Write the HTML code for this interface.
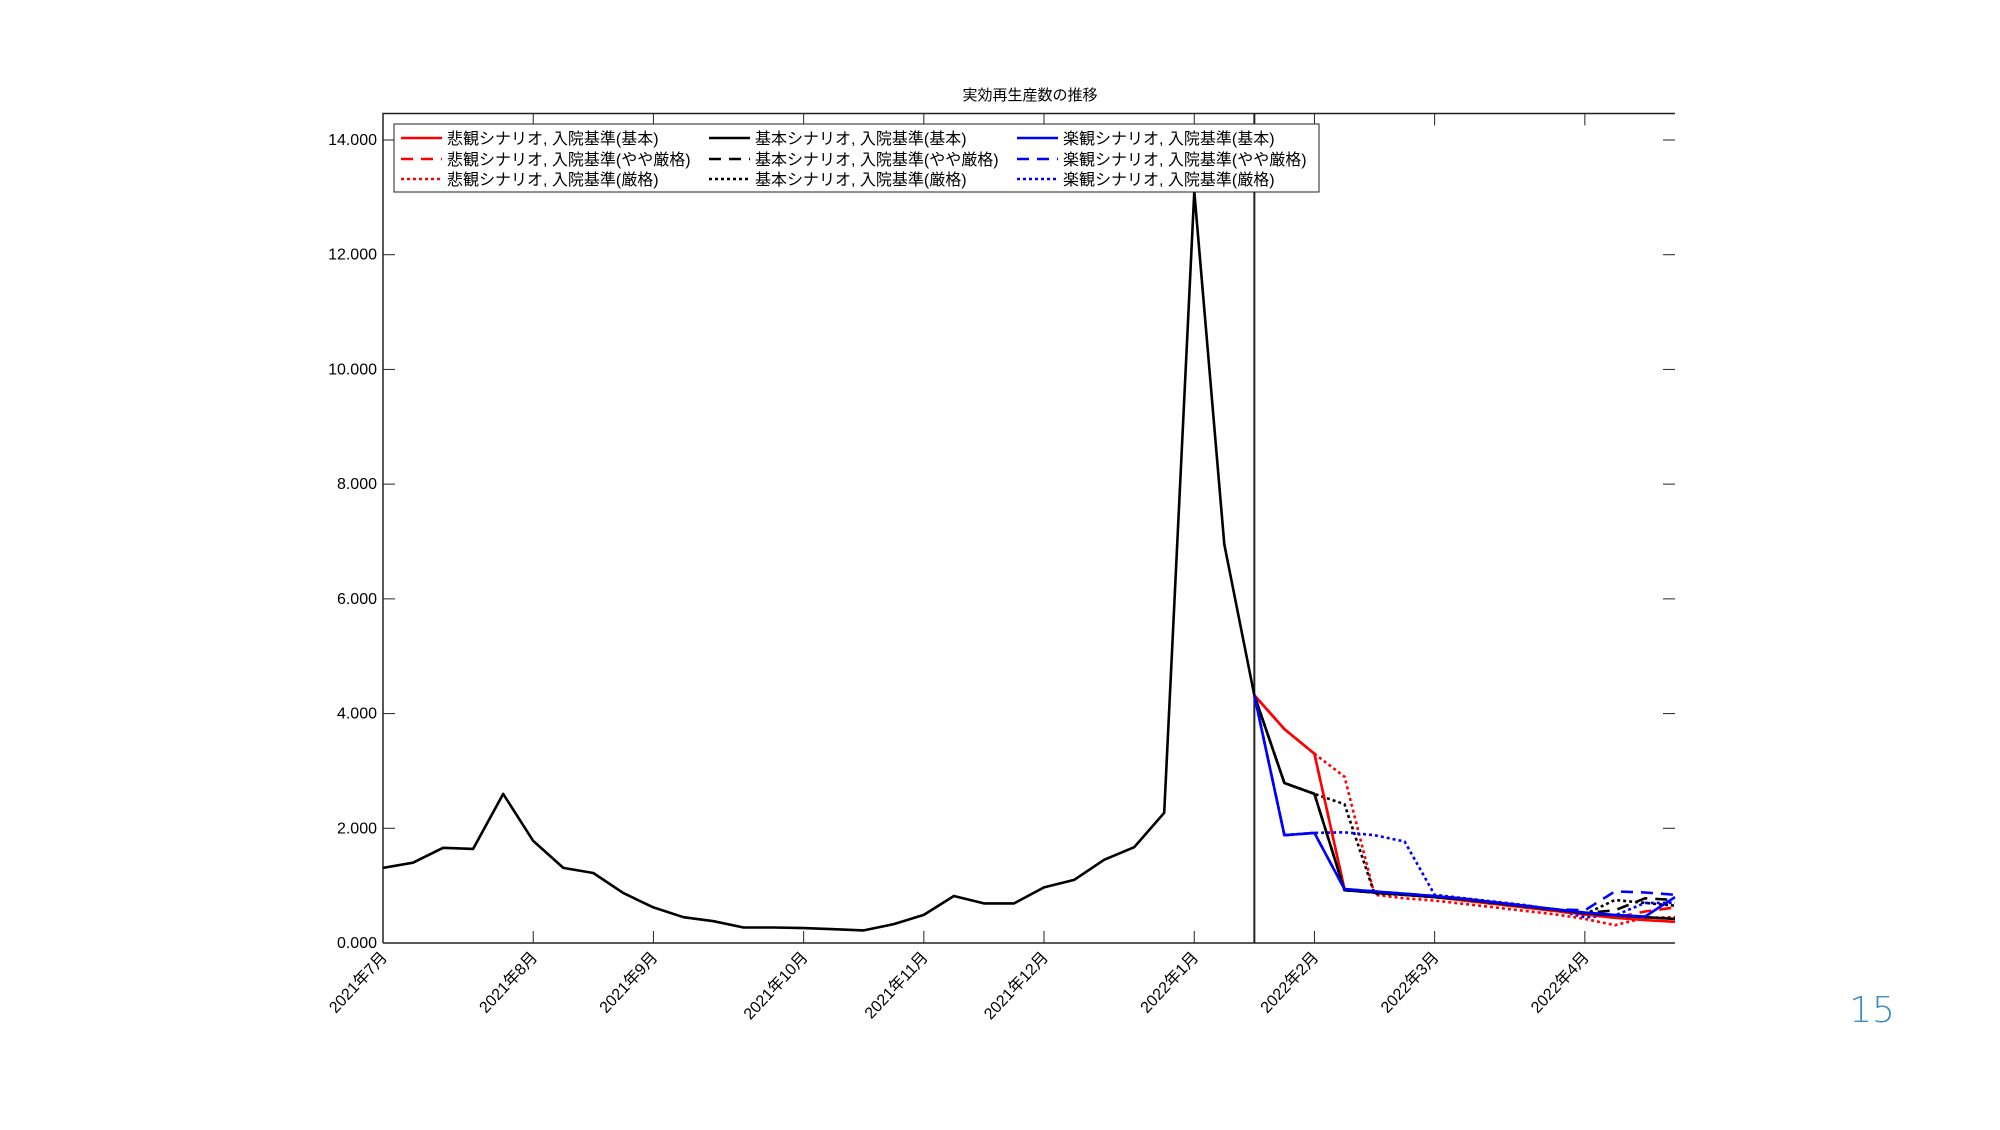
<!DOCTYPE html>
<html><head><meta charset="utf-8"><style>
body{margin:0;background:#fff;}
svg text{font-family:"Liberation Sans","Noto Sans CJK JP",sans-serif;}
</style></head><body>
<svg id="chart" width="2000" height="1125" xmlns="http://www.w3.org/2000/svg">
<text x="1030" y="100" font-size="15" text-anchor="middle">実効再生産数の推移</text>
<g id="plot"></g>
<text x="1872" y="1022" font-size="36" fill="#3a8dbd" text-anchor="middle" style="font-family:'DejaVu Sans',sans-serif;font-weight:200">15</text>
</svg>
<script>
const hist = [1.31,1.40,1.66,1.64,2.60,1.78,1.31,1.22,0.87,0.62,0.45,0.38,0.27,0.27,0.26,0.24,0.22,0.33,0.49,0.82,0.69,0.69,0.97,1.10,1.45,1.67,2.27,13.1,6.95,4.32];
const redSolid   = [4.32,3.73,3.30,0.94,0.88,0.84,0.80,0.74,0.68,0.62,0.56,0.50,0.44,0.40,0.37];
const redDashed  = [4.32,3.73,3.30,0.94,0.88,0.84,0.80,0.74,0.68,0.62,0.56,0.50,0.44,0.55,0.62];
const redDotted  = [4.32,3.73,3.30,2.90,0.84,0.78,0.74,0.68,0.62,0.56,0.50,0.42,0.31,0.44,0.45];
const blkSolid   = [4.32,2.79,2.60,0.92,0.88,0.84,0.80,0.76,0.70,0.64,0.58,0.52,0.48,0.45,0.42];
const blkDashed  = [4.32,2.79,2.60,0.92,0.88,0.84,0.80,0.76,0.70,0.64,0.58,0.52,0.57,0.78,0.75];
const blkDotted  = [4.32,2.79,2.60,2.42,0.86,0.84,0.80,0.76,0.70,0.64,0.58,0.50,0.75,0.70,0.65];
const bluSolid   = [4.32,1.88,1.92,0.94,0.90,0.86,0.82,0.77,0.71,0.65,0.59,0.53,0.49,0.46,0.80];
const bluDashed  = [4.32,1.88,1.92,0.94,0.90,0.86,0.82,0.77,0.71,0.65,0.59,0.57,0.90,0.88,0.84];
const bluDotted  = [4.32,1.88,1.92,1.93,1.88,1.77,0.84,0.78,0.72,0.66,0.58,0.45,0.48,0.70,0.70];
const yTicks = [0,2,4,6,8,10,12,14];
const xTickIdx = [0,5,9,14,18,22,27,31,35,40];
const xTickLabels = ["2021年7月","2021年8月","2021年9月","2021年10月","2021年11月","2021年12月","2022年1月","2022年2月","2022年3月","2022年4月"];
const splitIdx = 29;
const nPts = 44;

const NS="http://www.w3.org/2000/svg";
const L=383,R=1675,T=113.5,B=943;
const xs=i=>L+i*(R-L)/(nPts-1);
const ys=v=>B-v*(B-140)/14;
const g=document.getElementById('plot');
function mk(tag,attrs,parent){const e=document.createElementNS(NS,tag);for(const k in attrs)e.setAttribute(k,attrs[k]);(parent||g).appendChild(e);return e;}
const frame=mk('path',{d:`M${L} ${B} L${L} ${T} L${R} ${T} M${L} ${B} L${R} ${B}`,fill:'none',stroke:'#222','stroke-width':1.5});


yTicks.forEach(v=>{
  const y=ys(v);
  const t1=mk('line',{x1:L,x2:L+12,y1:y,y2:y,stroke:'#222','stroke-width':1});
  
  
  const t2=mk('line',{x1:R-12,x2:R,y1:y,y2:y,stroke:'#222','stroke-width':1});
  
  
  const tx=mk('text',{x:L-6,y:y+5,'font-size':16,'text-anchor':'end'});
  tx.textContent=v.toFixed(3);
  
  
});
xTickIdx.forEach((i,k)=>{
  const x=xs(i);
  const t1=mk('line',{x1:x,x2:x,y1:B,y2:B-12,stroke:'#222','stroke-width':1});
  
  
  const t2=mk('line',{x1:x,x2:x,y1:T,y2:T+12,stroke:'#222','stroke-width':1});
  
  
  const tx=mk('text',{x:x+5,y:B+15,'font-size':16,'text-anchor':'end',transform:`rotate(-47 ${x+5} ${B+15})`});
  tx.textContent=xTickLabels[k];
  
  
});
const vl=mk('line',{x1:xs(splitIdx),x2:xs(splitIdx),y1:T,y2:B,stroke:'#222','stroke-width':2});


const dash={solid:'',dashed:'12 8',dotted:'3 3'};
const series=[
 ['red-pessimistic-strict',redDotted,'#f00','dotted'],
 ['black-base-strict',blkDotted,'#000','dotted'],
 ['blue-optimistic-strict',bluDotted,'#00f','dotted'],
 ['red-pessimistic-moderate',redDashed,'#f00','dashed'],
 ['black-base-moderate',blkDashed,'#000','dashed'],
 ['blue-optimistic-moderate',bluDashed,'#00f','dashed'],
 ['red-pessimistic-basic',redSolid,'#f00','solid'],
 ['black-base-basic',blkSolid,'#000','solid'],
 ['blue-optimistic-basic',bluSolid,'#00f','solid'],
];
function line(name,vals,off,col,st){
  const d=vals.map((v,i)=>(i?'L':'M')+xs(i+off).toFixed(1)+' '+ys(v).toFixed(1)).join(' ');
  const p=mk('path',{d:d,fill:'none',stroke:col,'stroke-width':2.6,'stroke-dasharray':dash[st],'stroke-linejoin':'round'});
  
  
}
series.forEach(s=>line('series-'+s[0],s[1],splitIdx,s[2],s[3]));
line('series-historical',hist,0,'#000','solid');
const lg=mk('g',{});


mk('rect',{x:394,y:124,width:925,height:68,fill:'#fff',stroke:'#222','stroke-width':1},lg);
const legCols=[[401,'悲観シナリオ','#f00'],[709,'基本シナリオ','#000'],[1017,'楽観シナリオ','#00f']];
const legRows=[[138,'基本','solid'],[159,'やや厳格','dashed'],[179,'厳格','dotted']];
legCols.forEach(c=>legRows.forEach(r=>{
  const ln=mk('line',{x1:c[0],x2:c[0]+41,y1:r[0],y2:r[0],stroke:c[2],'stroke-width':2.6,'stroke-dasharray':dash[r[2]]},lg);
  
  
  const tx=mk('text',{x:c[0]+46,y:r[0]+6,'font-size':16},lg);
  tx.textContent=c[1]+', 入院基準('+r[1]+')';
  
  
}));
</script>
</body></html>
